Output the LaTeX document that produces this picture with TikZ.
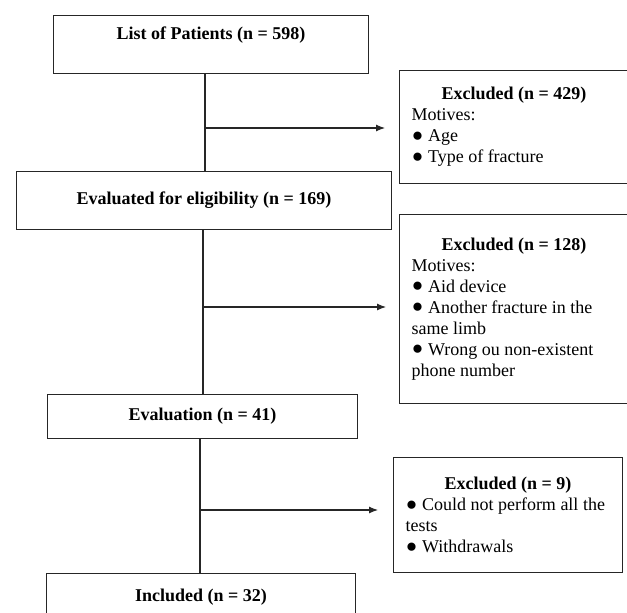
\documentclass[tikz,border=0pt]{standalone}
\usepackage{fontspec}
\setmainfont{Liberation Serif}
\usetikzlibrary{arrows.meta}

\tikzset{
  box/.style={draw=black!85, line width=1.1pt, inner sep=0pt, anchor=north west,
    font=\fontsize{18}{21}\selectfont},
  exclbox/.style={box, align=flush left, inner sep=12pt, text width=205pt},
  flow/.style={draw=black!85, line width=1.1pt},
}
\newcommand{\boxtitle}[1]{\makebox[205pt]{\textbf{#1}}}
\newcommand{\dotitem}{\raisebox{-5.6pt}[0pt][0pt]{\scalebox{1.9}{\textbullet}}}

\begin{document}
\begin{tikzpicture}[x=1pt, y=-1pt, >={Latex[length=9pt,width=7pt]}]
        \useasboundingbox (0,0) rectangle (627,613);

        % Cột chính
        \node[box, minimum width=315pt, text height=24pt, text depth=34pt] (list) at (53,15)
            {\textbf{List of Patients (n = 598)}};
        \node[box, minimum width=375pt, minimum height=58pt] (elig) at (16,171)
            {\textbf{Evaluated for eligibility (n = 169)}};
        \node[box, minimum width=310pt, minimum height=44pt] (eval) at (47,394)
            {\textbf{Evaluation (n = 41)}};
        \node[box, minimum width=309pt, minimum height=48pt] (incl) at (46,573)
            {\textbf{Included (n = 32)}};

        % Các hộp loại trừ
        \node[exclbox, minimum height=113pt] (exc1) at (399,70)
            {\boxtitle{Excluded (n = 429)}\\Motives:\\\dotitem{} Age\\\dotitem{} Type of fracture};
        \node[exclbox, minimum height=189pt] (exc2) at (399,214)
            {\boxtitle{Excluded (n = 128)}\\Motives:\\\dotitem{} Aid device\\\dotitem{} Another fracture in the\\same limb\\\dotitem{} Wrong ou non-existent\\phone number};
        \node[exclbox, minimum height=115pt] (exc3) at (393,457)
            {\boxtitle{Excluded (n = 9)}\\\dotitem{} Could not perform all the\\tests\\\dotitem{} Withdrawals};

        % Các điểm rẽ nhánh
        \coordinate (j1) at (205,128);
        \coordinate (j2) at (203,307);
        \coordinate (j3) at (200,510);

        % Đường nối dọc
        \draw[flow] (list.south -| j1) -- (elig.north -| j1);
        \draw[flow] (elig.south -| j2) -- (eval.north -| j2);
        \draw[flow] (eval.south -| j3) -- (incl.north -| j3);

        % Mũi tên sang hộp loại trừ
        \draw[flow, ->, shorten >=14pt] (j1) -- (j1 -| exc1.west);
        \draw[flow, ->, shorten >=13pt] (j2) -- (j2 -| exc2.west);
        \draw[flow, ->, shorten >=15pt] (j3) -- (j3 -| exc3.west);
    \end{tikzpicture}
\end{document}
